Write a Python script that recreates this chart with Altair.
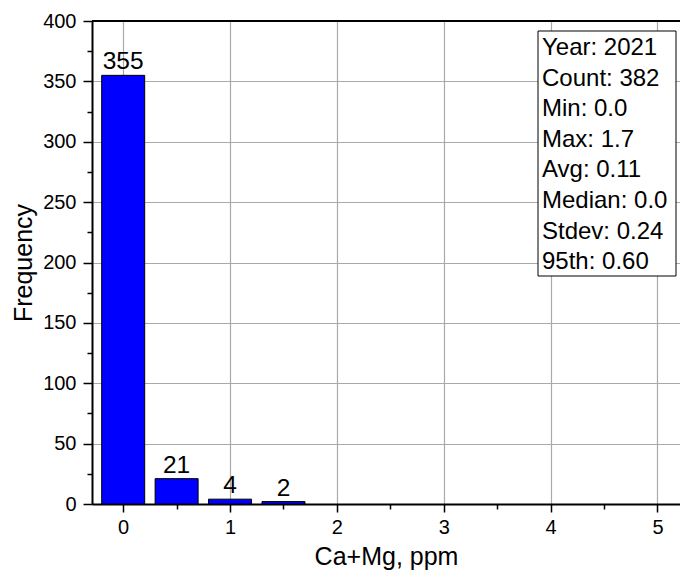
import altair as alt
import pandas as pd

# Histogram data (bin centers, ppm) and counts
bin_centers = [0.0, 0.5, 1.0, 1.5]
counts = [355, 21, 4, 2]

x_major = [0, 1, 2, 3, 4, 5]
x_minor = [0.5, 1.5, 2.5, 3.5, 4.5]
y_major = [0, 50, 100, 150, 200, 250, 300, 350, 400]
y_minor = [25, 75, 125, 175, 225, 275, 325, 375]

stats_lines = [
    "Year: 2021",
    "Count: 382",
    "Min: 0.0",
    "Max: 1.7",
    "Avg: 0.11",
    "Median: 0.0",
    "Stdev: 0.24",
    "95th: 0.60",
]

df = pd.DataFrame({"x": bin_centers, "count": counts})

FONT = "Liberation Sans"
xscale = alt.Scale(domain=[-0.245, 5.164], nice=False, zero=False)
yscale = alt.Scale(domain=[0, 400], nice=False)

base = alt.Chart(df)

bars = base.mark_bar(size=43, color="#0000FF", stroke="black", strokeWidth=1).encode(
    x=alt.X("x:Q", scale=xscale,
            axis=alt.Axis(values=x_major, title="Ca+Mg, ppm", orient="bottom",
                          grid=True, gridColor="#aaaaaa", gridWidth=1.2,
                          domainColor="black", domainWidth=2,
                          tickColor="black", tickWidth=1.5, tickSize=8,
                          labelFontSize=20, labelPadding=5, labelColor="black",
                          titleFontSize=25, titleFontWeight="normal", titlePadding=7,
                          titleColor="black", format="d", labelFlush=False)),
    y=alt.Y("count:Q", scale=yscale,
            axis=alt.Axis(values=y_major, title="Frequency", orient="left",
                          grid=True, gridColor="#aaaaaa", gridWidth=1.2,
                          domainColor="black", domainWidth=2,
                          tickColor="black", tickWidth=1.5, tickSize=9,
                          labelFontSize=20, labelPadding=7, labelColor="black",
                          titleFontSize=25, titleFontWeight="normal", titlePadding=6,
                          titleColor="black", format="d", labelFlush=False)),
)

labels = base.mark_text(baseline="bottom", dy=-1, fontSize=24.5, color="black").encode(
    x=alt.X("x:Q", scale=xscale,
            axis=alt.Axis(values=x_minor, title=None, orient="bottom", labels=False,
                          grid=False, domain=False, tickColor="black",
                          tickWidth=1.5, tickSize=5)),
    y=alt.Y("count:Q", scale=yscale,
            axis=alt.Axis(values=y_minor, title=None, orient="left", labels=False,
                          grid=False, domain=False, tickColor="black",
                          tickWidth=1.5, tickSize=5)),
    text=alt.Text("count:Q"),
)

top_border = alt.Chart(pd.DataFrame({"y": [400]})).mark_rule(
    color="black", strokeWidth=2
).encode(y=alt.Y("y:Q", scale=yscale, axis=None))

box = alt.Chart(pd.DataFrame({"a": [0]})).mark_rect(
    fill="white", stroke="black", strokeWidth=1
).encode(x=alt.value(446), x2=alt.value(584), y=alt.value(10), y2=alt.value(255))

stats_text = alt.Chart(pd.DataFrame({"t": ["\n".join(stats_lines)]})).mark_text(
    align="left", baseline="alphabetic", fontSize=24, lineBreak="\n",
    lineHeight=30.6, color="black"
).encode(x=alt.value(450), y=alt.value(34), text="t:N")

chart = alt.layer(bars, labels, top_border, box, stats_text).resolve_axis(
    x="independent", y="independent"
).properties(
    width=588, height=483,
    autosize=alt.AutoSizeParams(type="none"),
    padding={"left": 84, "top": 13, "right": 0, "bottom": 68},
).configure(font=FONT).configure_view(stroke=None)

chart.save("out.html", embed_options={"renderer": "svg", "actions": False})
